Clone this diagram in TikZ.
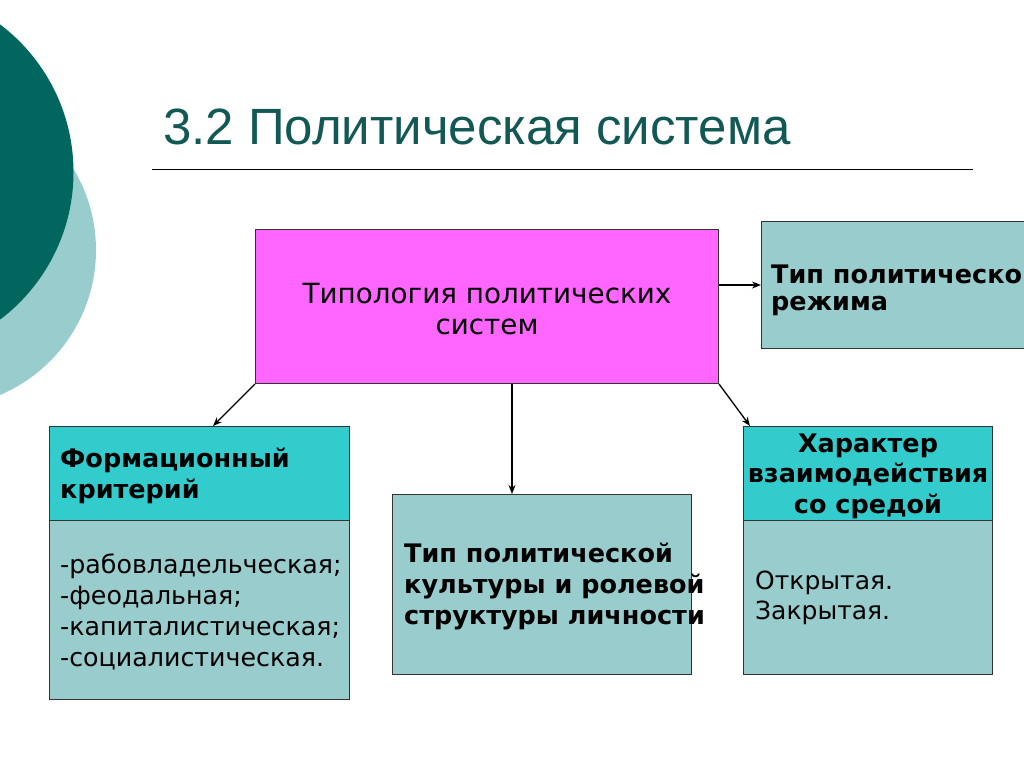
\documentclass[tikz,border=0pt]{standalone}
\usepackage{fontspec}
\setmainfont{DejaVu Sans}
\newfontfamily\titlefont{Liberation Sans}
\usetikzlibrary{arrows.meta,calc}
\definecolor{darkteal}{RGB}{0,102,94}
\definecolor{lightteal}{RGB}{153,204,204}
\definecolor{headteal}{RGB}{51,204,204}
\definecolor{magentabox}{RGB}{255,102,255}
\definecolor{titlecol}{RGB}{18,88,84}
\begin{document}
\begin{tikzpicture}[x=1pt,y=-1pt,
  box/.style={draw=black!80,line width=1pt,inner sep=0pt,anchor=north west},
  boldtext/.style={inner sep=0pt,font=\fontsize{25.5}{30.5}\selectfont\bfseries},
  plaintext/.style={inner sep=0pt,font=\fontsize{25.3}{31}\selectfont},
  conn/.style={-{Stealth[length=9pt,width=7pt]},line width=1.3pt,black}]
\useasboundingbox (0,0) rectangle (1024,767);
\clip (0,0) rectangle (1024,767);
\fill[lightteal] (-61.5,250) circle[radius=157.5];
\fill[darkteal] (-111.5,172) circle[radius=185];
\node[anchor=base west,inner sep=0pt,font=\titlefont\fontsize{51}{55}\selectfont,text=titlecol] (title) at (163,145) {3.2 Политическая система};
\coordinate (ruleL) at (152,169);
\coordinate (ruleR) at (973,169);
\draw[line width=0.8pt] (ruleL) -- (ruleR);
% boxes
\node[box,fill=magentabox,minimum width=463pt,minimum height=154pt] (mag) at (255,229) {};
\node[box,fill=lightteal,minimum width=320pt,minimum height=127pt] (regime) at (761,221) {};
\node[box,fill=headteal,minimum width=300pt,minimum height=94pt] (formhead) at (49,426) {};
\node[box,fill=lightteal,minimum width=300pt,minimum height=179pt] (formbody) at (49,520) {};
\node[box,fill=lightteal,minimum width=299pt,minimum height=180pt] (culture) at (392,494) {};
\node[box,fill=headteal,minimum width=249pt,minimum height=94pt] (envhead) at (743,426) {};
\node[box,fill=lightteal,minimum width=249pt,minimum height=154pt] (envbody) at (743,520) {};
% texts
\node[align=center,inner sep=0pt,font=\fontsize{27.8}{31}\selectfont] (magtext) at (487,309) {Типология политических\\систем};
\node[boldtext,align=left,anchor=west,font=\fontsize{25.5}{27}\selectfont\bfseries] (regimetext) at (771,290) {Тип политического\\режима};
\node[boldtext,align=left,anchor=west] (formheadtext) at (60,476) {Формационный\\критерий};
\node[plaintext,align=left,anchor=west] (formbodytext) at (60,612) {-рабовладельческая;\\-феодальная;\\-капиталистическая;\\-социалистическая.};
\node[boldtext,align=left,anchor=west,font=\fontsize{25.5}{31}\selectfont\bfseries] (culturetext) at (404,586) {Тип политической\\культуры и ролевой\\структуры личности};
\node[boldtext,align=center] (envheadtext) at (868,476) {Характер\\взаимодействия\\со средой};
\node[plaintext,align=left,anchor=west,font=\fontsize{25}{30}\selectfont] (envbodytext) at (755,598) {Открытая.\\Закрытая.};
% connectors
\draw[conn] (mag.east |- regime.west) -- (regime.west);
\draw[conn] (mag.south west) -- ([xshift=164pt]formhead.north west);
\draw[conn] ([xshift=257pt]mag.south west) -- ([xshift=257pt]mag.south west |- culture.north);
\draw[conn] (mag.south east) -- ([xshift=7pt]envhead.north west);
\end{tikzpicture}
\end{document}
